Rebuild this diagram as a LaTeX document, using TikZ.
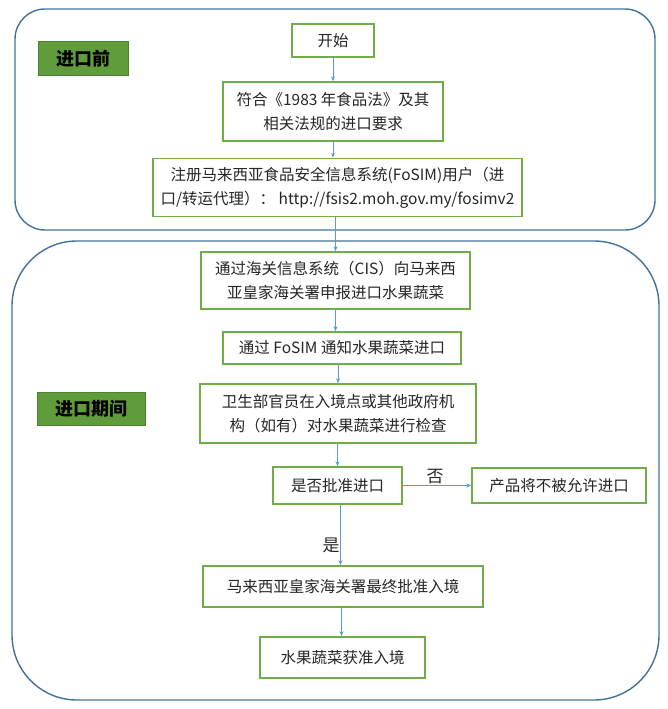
\documentclass[tikz,border=0pt]{standalone}
\usepackage{fontspec}
\setmainfont{Noto Sans CJK SC}
\usetikzlibrary{arrows.meta}
\definecolor{frameblue}{HTML}{41719C}
\definecolor{boxgreen}{HTML}{70AD47}
\definecolor{arrowblue}{HTML}{5B9BD5}
\definecolor{labelgreen}{HTML}{619C3C}
\definecolor{labeledge}{HTML}{4E8030}
\definecolor{txt}{HTML}{262626}
\begin{document}
\begin{tikzpicture}[x=1pt,y=-1pt,
  frame/.style={draw=frameblue,line width=1.4pt,inner sep=0pt},
  stepbox/.style={draw=boxgreen,line width=1.6pt,fill=white,align=center,inner sep=0pt,
    text=txt,font=\fontsize{15.5}{24}\selectfont},
  phase/.style={draw=labeledge,line width=1pt,fill=labelgreen,inner sep=0pt,
    text=black,font=\fontsize{18}{20}\selectfont\bfseries},
  arr/.style={draw=arrowblue,line width=0.8pt,-{Stealth[length=5pt,width=4pt]}},
  yn/.style={inner sep=0pt,text=txt,font=\fontsize{17}{18}\selectfont}]
\useasboundingbox (0,0) rectangle (667,709);
% containers
\node[frame,rounded corners=30pt,minimum width=640pt,minimum height=221pt] (before) at (335,119.5) {};
\node[frame,rounded corners=65pt,minimum width=647pt,minimum height=459pt] (during) at (335.5,470.5) {};
% phase labels
\node[phase,minimum width=90pt,minimum height=33pt] (lblbefore) at (83,58.5) {进口前};
\node[phase,minimum width=108pt,minimum height=33pt] (lblduring) at (91,408.5) {进口期间};
% steps
\node[stepbox,minimum width=82pt,minimum height=33pt] (start) at (333,40.5) {开始};
\node[stepbox,minimum width=220pt,minimum height=59pt] (comply) at (333,111.5) {符合《1983 年食品法》及其\\相关法规的进口要求};
\node[stepbox,minimum width=369pt,minimum height=58pt] (register) at (337.5,187.5) {注册马来西亚食品安全信息系统(FoSIM)用户（进\\口/转运代理）： http://fsis2.moh.gov.my/fosimv2};
\node[stepbox,minimum width=269pt,minimum height=57pt] (customs) at (335.5,280.5) {通过海关信息系统（CIS）向马来西\\亚皇家海关署申报进口水果蔬菜};
\node[stepbox,minimum width=238pt,minimum height=32pt] (fosim) at (342,348) {通过 FoSIM 通知水果蔬菜进口};
\node[stepbox,minimum width=276pt,minimum height=59pt] (inspect) at (338,413.5) {卫生部官员在入境点或其他政府机\\构（如有）对水果蔬菜进行检查};
\node[stepbox,minimum width=129pt,minimum height=37pt] (approve) at (337.5,485.5) {是否批准进口};
\node[stepbox,minimum width=174pt,minimum height=35pt] (reject) at (559,485.5) {产品将不被允许进口};
\node[stepbox,minimum width=280pt,minimum height=41pt] (final) at (343,586.5) {马来西亚皇家海关署最终批准入境};
\node[stepbox,minimum width=165pt,minimum height=41pt] (entry) at (342.5,657.5) {水果蔬菜获准入境};
% connectors
\draw[arr] (start.south) -- (start.south |- comply.north);
\draw[arr] (comply.south) -- (comply.south |- register.north);
\draw[arr] (register.south -| customs.north) -- (customs.north);
\draw[arr] (customs.south) -- (customs.south |- fosim.north);
\draw[arr] (fosim.south -| inspect.north) -- (inspect.north);
\draw[arr] (inspect.south -| approve.north) -- (approve.north);
\draw[arr] ([xshift=3pt]approve.south) -- ([xshift=3pt]approve.south |- final.north);
\draw[arr] ([xshift=-1.5pt]final.south) -- ([xshift=-1.5pt]final.south |- entry.north);
\draw[arr] (approve.east) -- (reject.west);
\node[yn] (no) at (435,477) {否};
\node[yn] (yes) at (331,545) {是};
\end{tikzpicture}
\end{document}
